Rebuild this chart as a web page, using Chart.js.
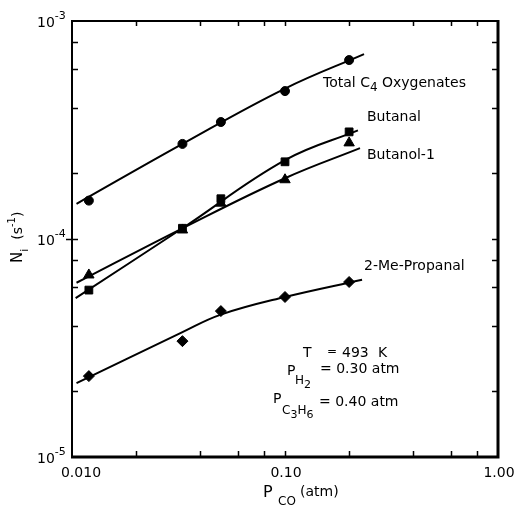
<!DOCTYPE html>
<html>
<head>
<meta charset="utf-8">
<script src="https://cdn.jsdelivr.net/npm/chart.js@4.4.1/dist/chart.umd.min.js"></script>
<style>
  html, body { margin: 0; padding: 0; background: #fff; }
  #wrap { width: 516px; height: 506px; }
</style>
</head>
<body>
<div id="wrap"><canvas id="chart" width="516" height="506"></canvas></div>
<script>
// CO partial pressure (atm) for the measured points
const pCO = [0.012, 0.033, 0.05, 0.10, 0.20];

// turnover rates N_i (s^-1)
const totalC4 = [1.5e-4, 2.73e-4, 3.44e-4, 4.77e-4, 6.62e-4];
const butanal = [5.83e-5, 1.12e-4, 1.53e-4, 2.26e-4, 3.1e-4];
const butanol = [6.84e-5, 1.1e-4, 1.46e-4, 1.87e-4, 2.76e-4];
const meProp  = [2.35e-5, 3.4e-5, 4.67e-5, 5.42e-5, 6.35e-5];

// smoothed curves through each set
const totalFitX = [0.0105, 0.033, 0.10, 0.235];
const totalFitY = [1.45e-4, 2.73e-4, 4.9e-4, 7.05e-4];
const butanalFitX = [0.0104, 0.033, 0.10, 0.22];
const butanalFitY = [5.36e-5, 1.12e-4, 2.3e-4, 3.15e-4];
const butanolFitX = [0.0105, 0.033, 0.10, 0.225];
const butanolFitY = [6.3e-5, 1.12e-4, 1.9e-4, 2.61e-4];
const meFitX = [0.0105, 0.033, 0.05, 0.10, 0.23];
const meFitY = [2.18e-5, 3.74e-5, 4.5e-5, 5.42e-5, 6.5e-5];

// tick positions (both axes carry ticks at 1, 2, 4, 6, 8 per decade)
const xTicks = [0.01, 0.02, 0.04, 0.06, 0.08, 0.1, 0.2, 0.4, 0.6, 0.8, 1];
const yTicks = [1e-5, 2e-5, 4e-5, 6e-5, 8e-5, 1e-4, 2e-4, 4e-4, 6e-4, 8e-4, 1e-3];
const xTickLabels = ['0.010', '0.10', '1.00'];
const xLabelValues = [0.01, 0.1, 1];
const yLabelExp = ['-5', '-4', '-3'];
const yLabelValues = [1e-5, 1e-4, 1e-3];

const FONT = '"DejaVu Sans", sans-serif';

function pts(xs, ys) {
  return xs.map((v, i) => ({ x: v, y: ys[i] }));
}

function curve(xs, ys) {
  return {
    data: pts(xs, ys),
    borderColor: '#000',
    borderWidth: 2,
    pointRadius: 0,
    showLine: true,
    fill: false,
    tension: 0.4
  };
}

function marks(ys, style, r) {
  return {
    data: pts(pCO, ys),
    showLine: false,
    pointStyle: style,
    pointRadius: r,
    backgroundColor: '#000',
    borderColor: '#000',
    borderWidth: 1
  };
}

// draws a run of text pieces left to right: [text, size, dy]
function rich(ctx, x, y, parts) {
  ctx.textBaseline = 'middle';
  ctx.textAlign = 'left';
  for (const [t, size, dy] of parts) {
    ctx.font = size + 'px ' + FONT;
    ctx.fillText(t, x, y + dy);
    x += ctx.measureText(t).width;
  }
  return x;
}

const decor = {
  id: 'decor',
  afterDatasetsDraw(chart) {
    const { ctx, chartArea: a, scales: { x, y } } = chart;
    ctx.save();
    ctx.strokeStyle = '#000';
    ctx.fillStyle = '#000';

    // frame
    ctx.lineWidth = 2;
    ctx.beginPath();
    ctx.moveTo(a.left, a.bottom);
    ctx.lineTo(a.left, a.top);
    ctx.lineTo(a.right, a.top);
    ctx.stroke();
    ctx.lineWidth = 3;
    ctx.beginPath();
    ctx.moveTo(a.right, a.top - 1);
    ctx.lineTo(a.right, a.bottom);
    ctx.lineTo(a.left - 1, a.bottom);
    ctx.stroke();

    // inward ticks on all four sides
    ctx.lineWidth = 1.5;
    ctx.beginPath();
    for (const v of xTicks.slice(1, -1)) {
      const px = Math.round(x.getPixelForValue(v)) + 0.5;
      ctx.moveTo(px, a.bottom); ctx.lineTo(px, a.bottom - 6);
      ctx.moveTo(px, a.top); ctx.lineTo(px, a.top + 5);
    }
    for (const v of yTicks.slice(1, -1)) {
      const py = Math.round(y.getPixelForValue(v)) + 0.5;
      ctx.moveTo(a.left, py); ctx.lineTo(a.left + 6, py);
      ctx.moveTo(a.right, py); ctx.lineTo(a.right - 6, py);
    }
    ctx.moveTo(a.left - 6, Math.round(y.getPixelForValue(1e-4)) + 0.5);
    ctx.lineTo(a.left, Math.round(y.getPixelForValue(1e-4)) + 0.5);
    ctx.stroke();

    // x tick labels
    ctx.font = '14px ' + FONT;
    ctx.textAlign = 'center';
    ctx.textBaseline = 'middle';
    xTickLabels.forEach((t, i) => {
      const px = x.getPixelForValue(xLabelValues[i]) + (i === 0 ? 9 : 1);
      ctx.fillText(t, px, a.bottom + 16);
    });

    // y tick labels 10^n
    yLabelExp.forEach((e, i) => {
      const py = y.getPixelForValue(yLabelValues[i]) + 2;
      rich(ctx, 37, py, [['10', 14, 0], [e, 11, -7]]);
    });

    // axis titles
    rich(ctx, 263, 493, [['P', 16, 0]]);
    rich(ctx, 278, 502, [['CO', 12, 0]]);
    rich(ctx, 300, 492, [['(atm)', 14, 0]]);

    ctx.save();
    ctx.translate(18, 263);
    ctx.rotate(-Math.PI / 2);
    rich(ctx, 0, 0, [['N', 15, 0], ['i', 11, 7], ['  (s', 14, 0], ['-1', 10, -6], [')', 14, 0]]);
    ctx.restore();

    // curve labels
    rich(ctx, 323, 83, [['Total C', 14, 0], ['4', 12, 5], [' Oxygenates', 14, 0]]);
    rich(ctx, 367, 117, [['Butanal', 14, 0]]);
    rich(ctx, 367, 155, [['Butanol-1', 14, 0]]);
    rich(ctx, 364, 266, [['2-Me-Propanal', 14, 0]]);

    // reaction conditions
    rich(ctx, 303, 353, [['T', 14, 0]]);
    rich(ctx, 327, 352, [['=', 12, 0]]);
    rich(ctx, 342, 353, [['493', 14, 0]]);
    rich(ctx, 378, 353, [['K', 14, 0]]);

    rich(ctx, 287, 371, [['P', 14, 0]]);
    rich(ctx, 295, 381, [['H', 12, 0], ['2', 11, 4]]);
    rich(ctx, 320, 369, [['= 0.30 atm', 14, 0]]);

    rich(ctx, 273, 399, [['P', 14, 0]]);
    rich(ctx, 282, 411, [['C', 12, 0], ['3', 11, 4], ['H', 12, 0], ['6', 11, 4]]);
    rich(ctx, 319, 402, [['= 0.40 atm', 14, 0]]);

    ctx.restore();
  }
};

new Chart(document.getElementById('chart'), {
  type: 'scatter',
  data: {
    datasets: [
      curve(totalFitX, totalFitY),
      curve(butanalFitX, butanalFitY),
      curve(butanolFitX, butanolFitY),
      curve(meFitX, meFitY),
      marks(totalC4, 'circle', 4.5),
      marks(butanol, 'triangle', 6),
      marks(butanal, 'rect', 5.5),
      marks(meProp, 'rectRot', 5.5)
    ]
  },
  options: {
    responsive: false,
    animation: false,
    devicePixelRatio: 1,
    layout: { padding: { left: 72, right: 18, top: 21, bottom: 49 } },
    plugins: { legend: { display: false }, tooltip: { enabled: false } },
    scales: {
      x: { type: 'logarithmic', min: 0.01, max: 1, display: false },
      y: { type: 'logarithmic', min: 1e-5, max: 1e-3, display: false }
    }
  },
  plugins: [decor]
});
</script>
</body>
</html>
